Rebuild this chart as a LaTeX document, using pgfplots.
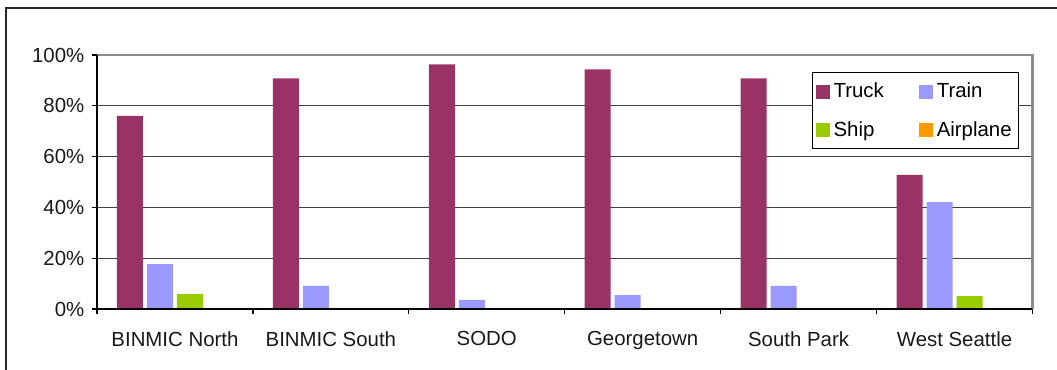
\documentclass[border=0pt]{standalone}
\usepackage{pgfplots}
\pgfplotsset{compat=1.18}
\usepackage{fontspec}
\setmainfont{Liberation Sans}

\definecolor{truck}{HTML}{993366}
\definecolor{train}{HTML}{9999FF}
\definecolor{ship}{HTML}{99CC00}
\definecolor{airplane}{HTML}{FF9900}
\definecolor{gridc}{HTML}{404040}
\definecolor{framec}{HTML}{8C8C8C}

\newcommand{\lblfont}{\fontsize{15.3pt}{18pt}\selectfont}

\begin{document}
\begin{tikzpicture}
\useasboundingbox (0,0) rectangle (792.75pt,277.5pt);
% outer chart frame
\draw[line width=1.3pt, black!85] (4.5pt,-2pt) -- (4.5pt,271.5pt) -- (795pt,271.5pt);
\begin{axis}[
  at={(72.75pt,45.75pt)}, anchor=south west,
  scale only axis, width=701.6pt, height=190.5pt,
  ybar=3pt, bar width=19.5pt,
  xmin=-0.5, xmax=5.5, ymin=0, ymax=100,
  clip=false,
  axis line style={draw=none},
  xtick={0,1,2,3,4,5},
  xticklabels={BINMIC North, BINMIC South, SODO, Georgetown, South Park, West Seattle},
  major x tick style={draw=none},
  minor xtick={-0.5,0.5,1.5,2.5,3.5,4.5,5.5},
  minor x tick style={black, line width=0.9pt},
  minor tick length=4pt,
  ytick={0,20,40,60,80,100},
  yticklabels={0\%,20\%,40\%,60\%,80\%,100\%},
  major y tick style={black, line width=0.9pt},
  major tick length=4pt,
  tick align=outside,
  xtick pos=bottom, ytick pos=left,
  ymajorgrids,
  major grid style={gridc, line width=0.9pt},
  ticklabel style={font=\lblfont, text=black!90},
  xticklabel style={yshift=-9.5pt},
  yticklabel style={xshift=-2pt},
  every axis plot/.append style={draw=none,
    legend image code/.code={\fill[##1] (0pt,-5.25pt) rectangle (10.5pt,5.25pt);}},
  legend columns=2,
  legend cell align=left,
  legend style={at={(0.9856,0.933)}, anchor=north east,
    draw=black, line width=0.8pt, font=\lblfont,
    inner xsep=2.5pt, inner ysep=6pt,
    row sep=12pt,
    /tikz/every even column/.append style={column sep=24pt},
    nodes={inner xsep=2.6pt, inner ysep=2pt}},
]
\addplot[fill=truck]    coordinates {(0,76.0) (1,90.8) (2,96.3) (3,94.3) (4,90.8) (5,52.8)};
\addplot[fill=train]    coordinates {(0,17.7) (1,9.1) (2,3.6) (3,5.5) (4,9.1) (5,42.1)};
\addplot[fill=ship]     coordinates {(0,5.9) (1,0) (2,0) (3,0) (4,0) (5,5.1)};
\addplot[fill=airplane] coordinates {(0,0) (1,0) (2,0) (3,0) (4,0) (5,0)};
\legend{Truck, Train, Ship, Airplane}
% plot-area border: grey top and right, black left and bottom
\draw[framec, line width=1.6pt] (rel axis cs:0,1) -- (rel axis cs:1,1) -- (rel axis cs:1,0);
\draw[black, line width=1.1pt] (rel axis cs:0,1) -- (rel axis cs:0,0) -- (rel axis cs:1,0);
\end{axis}
\end{tikzpicture}
\end{document}
